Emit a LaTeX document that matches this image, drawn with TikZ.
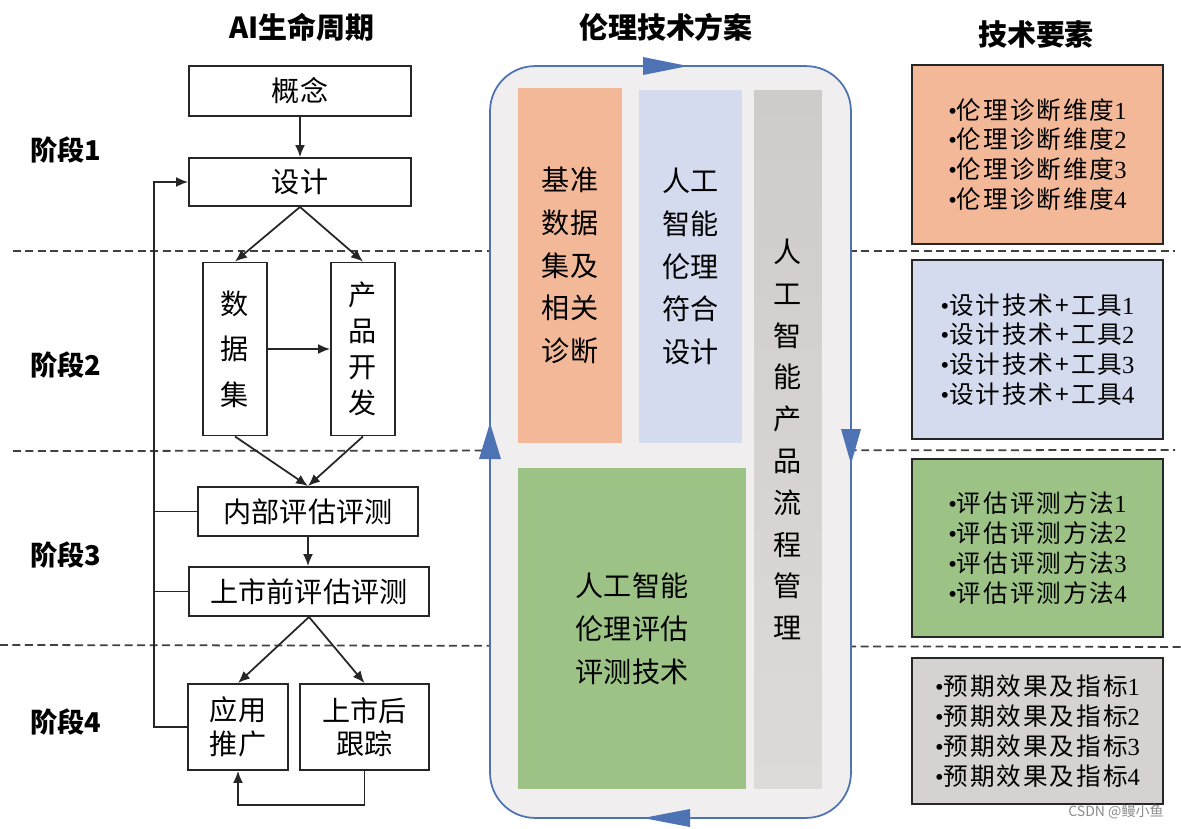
\documentclass[tikz,border=0pt]{standalone}
\usepackage{fontspec}
\setmainfont{Noto Sans CJK SC}
\newfontfamily\numfont{Liberation Serif}
\newcommand{\bul}{{\numfont •}}
\newcommand{\nr}[1]{{\numfont #1}}
\usetikzlibrary{arrows.meta}
\definecolor{cycblue}{HTML}{4E73B4}
\definecolor{cycfill}{HTML}{F0EEEE}
\definecolor{diagorange}{HTML}{F3B898}
\definecolor{designblue}{HTML}{D4DBEE}
\definecolor{flowtop}{HTML}{CFCBCA}
\definecolor{flowbot}{HTML}{DDDAD9}
\definecolor{evalgreen}{HTML}{9CC385}
\definecolor{resultgray}{HTML}{D6D2D1}

\begin{document}
\begin{tikzpicture}[x=0.02cm, y=-0.02cm,
	>={Latex[length=2.4mm, width=2mm]},
	title/.style={font=\bfseries\fontsize{16.5pt}{20pt}\selectfont},
	phase/.style={anchor=west, font=\bfseries\fontsize{15.5pt}{18pt}\selectfont},
	lbox/.style={draw=black!85, line width=1.1pt, fill=white, inner sep=0pt, align=center, font=\fontsize{16pt}{20pt}\selectfont},
	link/.style={line width=1pt, black!85},
	stage/.style={dash pattern=on 4.5pt off 2.6pt, line width=1pt, black!75},
	cyc/.style={draw=cycblue, line width=1pt, fill=cycfill, rounded corners=0.9cm},
	block/.style={inner sep=0pt, align=center, font=\fontsize{16pt}{24.4pt}\selectfont},
	rbox/.style={draw=black!85, line width=1.2pt, inner sep=0pt, align=center, minimum width=5.02cm, font=\fontsize{14pt}{17pt}\selectfont\addfontfeature{LetterSpace=8}}]
	\useasboundingbox (0,0) rectangle (1181,829);

	% stage separators
	\draw [stage] (13,251) -- (1175,251);
	\draw [stage] (13,451) -- (1175,450);
	\draw [stage] (0,645) -- (1181,647);

	\node at (302,27) [title] (t1) {AI生命周期};
	\node at (666,27) [title] (t2) {伦理技术方案};
	\node at (1036,35) [title] (t3) {技术要素};

	\node at (24,150) [phase] (p1) {阶段1};
	\node at (24,365) [phase] (p2) {阶段2};
	\node at (24,555) [phase] (p3) {阶段3};
	\node at (24,722) [phase] (p4) {阶段4};

	% life cycle
	\node at (300,91) [lbox, minimum width=4.44cm, minimum height=1cm] (concept) {概念};
	\node at (300,182) [lbox, minimum width=4.44cm, minimum height=0.96cm] (design) {设计};
	\node at (235,349) [lbox, minimum width=1.28cm, minimum height=3.46cm, font=\fontsize{16pt}{26pt}\selectfont] (data) {数\\据\\集};
	\node at (363,349) [lbox, minimum width=1.28cm, minimum height=3.46cm, font=\fontsize{16pt}{20.5pt}\selectfont] (prod) {产\\品\\开\\发};
	\node at (308,511.5) [lbox, minimum width=4.4cm, minimum height=0.98cm] (inner) {内部评估评测};
	\node at (309,591.5) [lbox, minimum width=4.8cm, minimum height=0.98cm] (premkt) {上市前评估评测};
	\node at (238,727) [lbox, minimum width=2cm, minimum height=1.72cm, font=\fontsize{16pt}{19pt}\selectfont] (promo) {应用\\推广};
	\node at (364.5,727) [lbox, minimum width=2.58cm, minimum height=1.72cm, font=\fontsize{16pt}{19pt}\selectfont] (track) {上市后\\跟踪};
	\coordinate (trunk) at (154,727);

	\draw [->, link] (concept) -- (design);
	\draw [->, link] (design.south) -- (data.north);
	\draw [->, link] (design.south) -- (prod.north);
	\draw [->, link] (data) -- (prod);
	\draw [->, link] (data.south) -- (inner.north);
	\draw [->, link] (prod.south) -- (inner.north);
	\draw [->, link] (inner.south) -- (inner.south |- premkt.north);
	\draw [->, link] (premkt.south) -- (promo.north);
	\draw [->, link] (premkt.south) -- (track.north);
	\draw [->, link] (track.south) -- ++(0,34) -| (promo.south);
	\draw [->, link] (promo.west) -- (trunk) |- (design.west);
	\draw [link] (inner.west) -- (inner.west -| trunk);
	\draw [link] (premkt.west) -- (premkt.west -| trunk);

	% ethics scheme
	\node at (670.5,442) [cyc, minimum width=7.22cm, minimum height=15.04cm] (cycle) {};
	\fill [cycblue] (643,57) -- (688,66) -- (643,75) -- cycle;
	\fill [cycblue] (841,429) -- (851,464) -- (861,429) -- cycle;
	\fill [cycblue] (479,459) -- (490,423) -- (501,459) -- cycle;
	\fill [cycblue] (690,809) -- (643,818) -- (690,827) -- cycle;

	\node at (570,265.5) [block, fill=diagorange, minimum width=2.08cm, minimum height=7.1cm] (bench) {基准\\数据\\集及\\相关\\诊断};
	\node at (690.5,266.5) [block, fill=designblue, minimum width=2.06cm, minimum height=7.06cm] (comply) {人工\\智能\\伦理\\符合\\设计};
	\node at (788,439.5) [block, top color=flowtop, bottom color=flowbot, minimum width=1.36cm, minimum height=13.98cm, font=\fontsize{16pt}{23.8pt}\selectfont] (flow) {人\\工\\智\\能\\产\\品\\流\\程\\管\\理};
	\node at (632,628.5) [block, fill=evalgreen, minimum width=4.56cm, minimum height=6.42cm] (evaltech) {人工智能\\伦理评估\\评测技术};

	% elements
	\node at (1037.5,154.5) [rbox, fill=diagorange, minimum height=3.58cm] (r1) {\bul 伦理诊断维度\nr1\\\bul 伦理诊断维度\nr2\\\bul 伦理诊断维度\nr3\\\bul 伦理诊断维度\nr4};
	\node at (1037.5,349.5) [rbox, fill=designblue, minimum height=3.58cm] (r2) {\bul 设计技术+工具\nr1\\\bul 设计技术+工具\nr2\\\bul 设计技术+工具\nr3\\\bul 设计技术+工具\nr4};
	\node at (1037.5,548) [rbox, fill=evalgreen, minimum height=3.56cm] (r3) {\bul 评估评测方法\nr1\\\bul 评估评测方法\nr2\\\bul 评估评测方法\nr3\\\bul 评估评测方法\nr4};
	\node at (1037.5,731) [rbox, fill=resultgray, minimum height=2.92cm] (r4) {\bul 预期效果及指标\nr1\\\bul 预期效果及指标\nr2\\\bul 预期效果及指标\nr3\\\bul 预期效果及指标\nr4};

	\node at (1116,812) [font=\fontsize{8pt}{9pt}\selectfont, text=black!45] (wm) {CSDN @鳗小鱼};
\end{tikzpicture}
\end{document}
